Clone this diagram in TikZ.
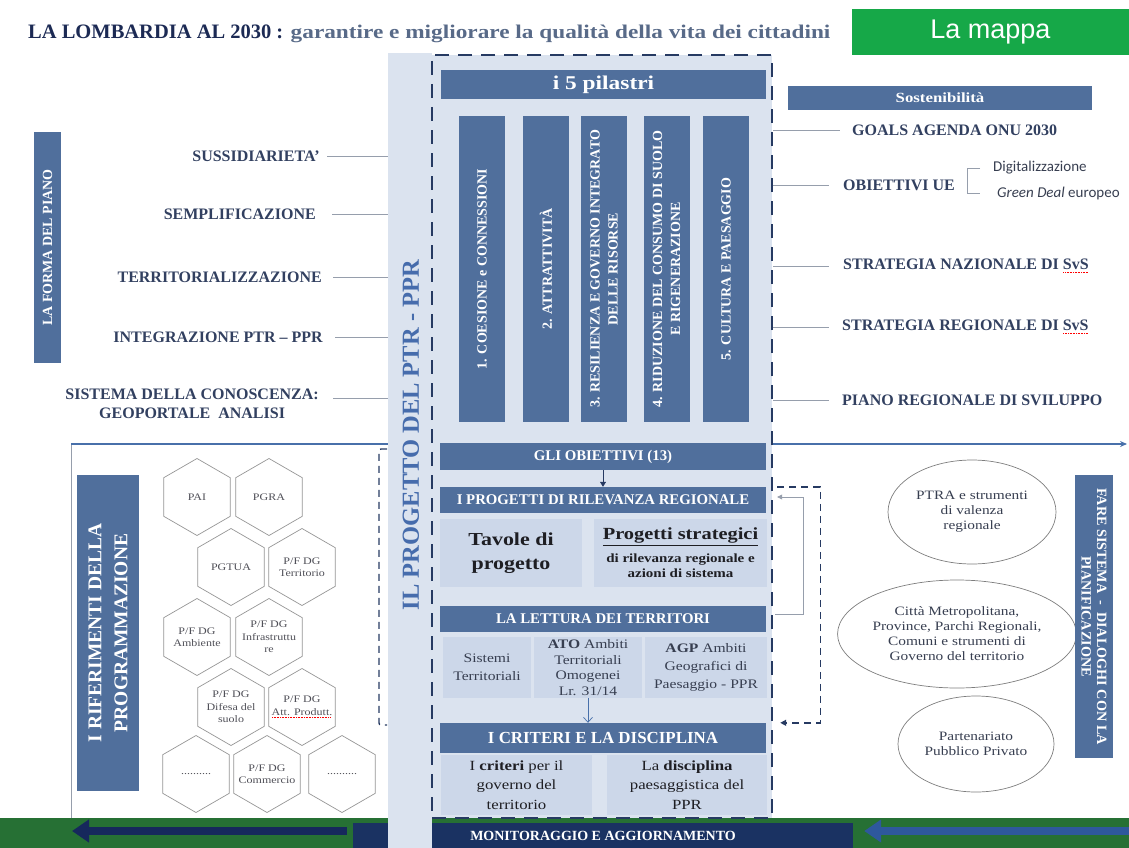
\documentclass[tikz,border=0pt]{standalone}
\usepackage{fontspec}
\setmainfont{Liberation Serif}
\newfontfamily\wideserif{Liberation Serif}[FakeStretch=1.2]
\newfontfamily\calib{Carlito}
\newfontfamily\arial{Liberation Sans}
\usetikzlibrary{arrows.meta,positioning,shapes.geometric}

\definecolor{steel}{RGB}{80,111,156}
\definecolor{lightfill}{RGB}{219,227,239}
\definecolor{cellblue}{RGB}{204,215,233}
\definecolor{framenavy}{RGB}{38,58,98}
\definecolor{lbltext}{RGB}{50,64,96}
\definecolor{titlenavy}{RGB}{28,42,84}
\definecolor{titlegray}{RGB}{88,106,136}
\definecolor{mapgreen}{RGB}{22,168,72}
\definecolor{bandgreen}{RGB}{38,112,52}
\definecolor{bandnavy}{RGB}{26,50,98}
\definecolor{lineblue}{RGB}{72,112,170}
\definecolor{arrownavy}{RGB}{22,40,92}
\definecolor{arrowblue}{RGB}{46,88,156}
\definecolor{tiegray}{RGB}{150,158,172}
\definecolor{hexgray}{RGB}{150,150,150}
\definecolor{hextext}{RGB}{80,80,88}
\definecolor{ovalgray}{RGB}{125,125,125}
\definecolor{celltext}{RGB}{55,62,80}
\definecolor{progblue}{RGB}{70,108,172}
\definecolor{nearblack}{RGB}{30,30,35}

\newcommand{\fsz}[2]{\fontsize{#1}{#2}\selectfont}
% red dotted mark under a word
\newcommand{\spell}[2]{\setbox0\hbox{#2}\rlap{\raisebox{-3pt}{\textcolor{red}{\hbox to \wd0{\leaders\hbox to 1.6pt{\hss\rule{0.9pt}{0.7pt}\hss}\hfill}}}}\textcolor{#1}{#2}}

\begin{document}
\begin{tikzpicture}[x=1pt,y=-1pt,
  lbl/.style={font=\bfseries\fsz{16}{19},text=lbltext,inner sep=0pt,align=center},
  tie/.style={draw=tiegray,line width=0.6pt},
  bar/.style={fill=steel,text=white,inner sep=0pt,align=center},
  pillar/.style={bar,rotate=90,minimum width=306,minimum height=46,font=\bfseries\fsz{14}{18}},
  cell/.style={fill=cellblue,inner sep=0pt,align=center},
  hexa/.style={regular polygon,regular polygon sides=6,shape border rotate=30,minimum size=77,inner sep=0pt,
    draw=hexgray,line width=0.7pt,fill=white},
  hextxt/.style={inner sep=0pt,align=center,font=\wideserif\fsz{10}{12.5},text=hextext},
  ovalnode/.style={ellipse,draw=ovalgray,line width=0.7pt,inner sep=0pt,align=center,
    font=\wideserif\fsz{12.8}{15},text=celltext},
  dashbracket/.style={draw=framenavy,line width=1.4pt,dash pattern=on 7pt off 5pt},
  dashframe/.style={draw=framenavy,fill=lightfill,line width=2.5pt,dash pattern=on 14pt off 9pt,inner sep=0pt},
  navyarrow/.style={draw=arrownavy,line width=8pt,-{Triangle[length=17pt,width=22pt]}},
  bluearrow/.style={draw=arrowblue,line width=8pt,-{Triangle[length=17pt,width=22pt]}}
]
\useasboundingbox (0,0) rectangle (1129,848);

% title and tag
\node[anchor=base west,inner sep=0pt,font=\bfseries\fsz{20.5}{24},text=titlenavy] (titlea) at (28,39) {LA LOMBARDIA AL 2030 :};
\node[right=7pt of titlea.base east,anchor=base west,inner sep=0pt,font=\wideserif\bfseries\fsz{19.4}{23},text=titlegray] (titleb)
  {garantire e migliorare la qualità della vita dei cittadini};
\node[fill=mapgreen,minimum width=277,minimum height=46,inner sep=0pt,font=\arial\fsz{27}{30},text=white] (mappa) at (990.5,32) {La mappa};

% connectors under the central column
\coordinate (lfoot) at (71,828);
\coordinate (lcorner) at (71,444);
\coordinate (rend) at (1127,444);
\draw[draw=tiegray,line width=0.8pt] (lfoot) -- (lcorner);
\draw[draw=lineblue,line width=1.8pt,-{Stealth[length=7pt,width=6pt]}] (lcorner) -- (rend);

% bottom strip
\node[fill=bandgreen,minimum width=1129,minimum height=30,inner sep=0pt] (strip) at (564.5,833) {};
\node[fill=bandnavy,minimum width=500,minimum height=25,inner sep=0pt,font=\bfseries\fsz{14}{16},text=white] (monit) at (603,835.5)
  {MONITORAGGIO E AGGIORNAMENTO};
\coordinate (westend) at (72,831);
\coordinate (eastend) at (1129,831);
\draw[navyarrow] ([xshift=-6pt,yshift=4.5pt]monit.west) -- (westend);
\draw[bluearrow] (eastend) -- ([xshift=11pt,yshift=4.5pt]monit.east);

% central column
\node[fill=lightfill,minimum width=44,minimum height=795,inner sep=0pt] (band) at (410,450.5) {};
\node[dashframe,minimum width=340,minimum height=763] (pilbox) at (602,436.5) {};
\node[rotate=90,inner sep=0pt,font=\bfseries\fsz{24.5}{28},text=progblue] (progetto) at (411,435) {IL PROGETTO DEL PTR - PPR};

\node[bar,minimum width=325,minimum height=29,font=\wideserif\bfseries\fsz{19.5}{22}] (pilastri) at (603.5,84.5) {i 5 pilastri};
\node[pillar] (p1) at (482,269) {1. COESIONE e CONNESSIONI};
\node[pillar] (p2) at (546,269) {2. ATTRATTIVITÀ};
\node[pillar] (p3) at (604,269) {3. RESILIENZA E GOVERNO INTEGRATO\\DELLE RISORSE};
\node[pillar] (p4) at (666.5,269) {4. RIDUZIONE DEL CONSUMO DI SUOLO\\E RIGENERAZIONE};
\node[pillar] (p5) at (726,269) {5. CULTURA E PAESAGGIO};

\node[bar,minimum width=326,minimum height=27,font=\bfseries\fsz{14.8}{17}] (obiettivi) at (603,456.5) {GLI OBIETTIVI (13)};
\node[bar,minimum width=326,minimum height=26,font=\bfseries\fsz{14.8}{17}] (progetti) at (603,500) {I PROGETTI DI RILEVANZA REGIONALE};
\node[cell,minimum width=142,minimum height=68,font=\wideserif\bfseries\fsz{18.3}{24},text=nearblack] (tavole) at (511,553) {Tavole di\\progetto};
\node[cell,minimum width=173,minimum height=68,font=\wideserif\bfseries\fsz{12.5}{15},text=nearblack] (strateg) at (680.5,553)
  {{\fsz{17}{19}\underline{Progetti strategici}}\\[8pt]di rilevanza regionale e\\azioni di sistema};
\node[bar,minimum width=326,minimum height=26,font=\bfseries\fsz{14.8}{17}] (lettura) at (603,619) {LA LETTURA DEI TERRITORI};
\node[cell,minimum width=88,minimum height=61,font=\wideserif\fsz{13}{18},text=celltext] (sistemi) at (487,667.5) {Sistemi\\Territoriali};
\node[cell,minimum width=108,minimum height=61,font=\wideserif\fsz{13}{15.5},text=celltext] (ato) at (588,667.5)
  {\textbf{ATO} Ambiti\\Territoriali\\Omogenei\\Lr. 31/14};
\node[cell,minimum width=122,minimum height=61,font=\wideserif\fsz{13}{18},text=celltext] (agp) at (706,667.5)
  {\textbf{AGP} Ambiti\\Geografici di\\Paesaggio - PPR};
\node[bar,minimum width=326,minimum height=30,font=\bfseries\fsz{16.9}{19}] (criteri) at (603,738) {I CRITERI E LA DISCIPLINA};
\node[cell,minimum width=151,minimum height=60,font=\wideserif\fsz{14}{19.5},text=nearblack] (crit) at (516.5,785)
  {I \textbf{criteri} per il\\governo del\\territorio};
\node[cell,minimum width=160,minimum height=60,font=\wideserif\fsz{14}{19.5},text=nearblack] (disc) at (687,785)
  {La \textbf{disciplina}\\paesaggistica del\\PPR};

\draw[draw=framenavy,line width=0.6pt,-{Triangle[length=5pt,width=6pt]}] (obiettivi.south) -- (progetti.north);
\draw[draw=lineblue,line width=0.7pt,-{Straight Barb[length=5pt,width=9pt]}] (ato.south) -- (ato.south |- criteri.north);

% feedback brackets
\coordinate (lbtop) at (387,449);
\coordinate (lbbot) at (387,725);
\draw[dashbracket,rounded corners=2pt] (lbtop) -- ++(-8,0) |- (lbbot);
\draw[dashbracket,-{Triangle[length=6pt,width=6pt]}] ([xshift=11pt]progetti.north east) -- ++(43,0) |- ([xshift=14pt]criteri.north east);
\draw[tie,-{Triangle[length=5pt,width=5pt]}] ([xshift=9pt,yshift=5pt]lettura.east) -- ++(28,0) |- ([xshift=11pt,yshift=3pt]progetti.east);

% la forma del piano
\node[bar,rotate=90,minimum width=231,minimum height=27,font=\bfseries\fsz{14}{16}] (forma) at (47.5,247.5) {LA FORMA DEL PIANO};
\node[lbl,anchor=east] (sussid) at (320,156) {SUSSIDIARIETA’};
\node[lbl,anchor=east] (sempl) at (316,214) {SEMPLIFICAZIONE};
\node[lbl,anchor=east] (territ) at (322,277) {TERRITORIALIZZAZIONE};
\node[lbl,anchor=east] (integr) at (323,337) {INTEGRAZIONE PTR – PPR};
\node[lbl,anchor=east] (conosc) at (319,404) {SISTEMA DELLA CONOSCENZA:\\GEOPORTALE\ \ ANALISI};
\draw[tie] ([xshift=7pt]sussid.east) -- (sussid.east -| band.west);
\draw[tie] ([xshift=16pt]sempl.east) -- (sempl.east -| band.west);
\draw[tie] ([xshift=11pt]territ.east) -- (territ.east -| band.west);
\draw[tie] ([xshift=12pt]integr.east) -- (integr.east -| band.west);
\draw[tie] ([xshift=14pt,yshift=6pt]conosc.east) -- ([yshift=6pt]conosc.east -| band.west);

% sostenibilita
\node[bar,minimum width=304,minimum height=24,font=\wideserif\bfseries\fsz{14}{16}] (sosten) at (940,98) {Sostenibilità};
\node[lbl,anchor=west] (goals) at (852,130) {GOALS AGENDA ONU 2030};
\node[lbl,anchor=west] (obiett) at (843,185) {OBIETTIVI UE};
\node[anchor=west,inner sep=0pt,font=\calib\fsz{15}{18},text=celltext] (digit) at (993,168) {Digitalizzazione};
\node[anchor=west,inner sep=0pt,font=\calib\fsz{15}{18},text=celltext] (greend) at (997,193) {\textit{Green Deal} europeo};
\node[lbl,anchor=west] (snaz) at (843,266) {STRATEGIA NAZIONALE DI \spell{lbltext}{SvS}};
\node[lbl,anchor=west] (sreg) at (842,327) {STRATEGIA REGIONALE DI \spell{lbltext}{SvS}};
\node[lbl,anchor=west] (prs) at (842,400) {PIANO REGIONALE DI SVILUPPO};
\draw[tie] (pilbox.east |- goals.west) -- ([xshift=-12pt]goals.west);
\draw[tie] (pilbox.east |- obiett.west) -- ([xshift=-14pt]obiett.west);
\draw[tie] (pilbox.east |- snaz.west) -- ([xshift=-14pt]snaz.west);
\draw[tie] (pilbox.east |- sreg.west) -- ([xshift=-13pt]sreg.west);
\draw[tie] (pilbox.east |- prs.west) -- ([xshift=-13pt]prs.west);
\draw[tie] ([xshift=-13pt]digit.west) -- ++(-13,0) |- ([xshift=-17pt]greend.west);

% riferimenti della programmazione
\node[bar,rotate=90,minimum width=316,minimum height=62,font=\bfseries\fsz{19.5}{26}] (riferim) at (108,633) {I RIFERIMENTI DELLA\\PROGRAMMAZIONE};
\node[hexa] (pai) at (197,497) {};
\node[hexa] (pgra) at (269,497) {};
\node[hexa] (pgtua) at (231,567) {};
\node[hexa] (pfterr) at (302,567) {};
\node[hexa] (pfamb) at (197,637) {};
\node[hexa] (pfinfr) at (269,637) {};
\node[hexa] (pfdif) at (231,707) {};
\node[hexa] (pfatt) at (302,707) {};
\node[hexa] (blanka) at (196,774) {};
\node[hexa] (pfcomm) at (267,774) {};
\node[hexa] (blankb) at (342,774) {};
\node[hextxt] at (pai) {PAI};
\node[hextxt] at (pgra) {PGRA};
\node[hextxt] at (pgtua) {PGTUA};
\node[hextxt] at (pfterr) {P/F DG\\Territorio};
\node[hextxt] at (pfamb) {P/F DG\\Ambiente};
\node[hextxt] at (pfinfr) {P/F DG\\Infrastruttu\\re};
\node[hextxt] at (pfdif) {P/F DG\\Difesa del\\suolo};
\node[hextxt] at (pfatt) {P/F DG\\\spell{hextext}{Att. Produtt.}};
\node[hextxt] at (blanka) {..........};
\node[hextxt] at (pfcomm) {P/F DG\\Commercio};
\node[hextxt] at (blankb) {..........};

% fare sistema
\node[ovalnode,minimum width=168,minimum height=104] (ptra) at (972,512) {PTRA e strumenti\\di valenza\\regionale};
\node[ovalnode,minimum width=196,minimum height=108] (citta) at (957,634)
  {Città Metropolitana,\\Province, Parchi Regionali,\\Comuni e strumenti di\\Governo del territorio};
\node[ovalnode,minimum width=156,minimum height=96] (ppp) at (976,744) {Partenariato\\Pubblico Privato};
\node[bar,rotate=-90,minimum width=283,minimum height=38,font=\bfseries\fsz{14.2}{15.5}] (fare) at (1094,616.5)
  {FARE SISTEMA\ \ -\ \ DIALOGHI CON LA\\PIANIFICAZIONE};

\end{tikzpicture}
\end{document}
